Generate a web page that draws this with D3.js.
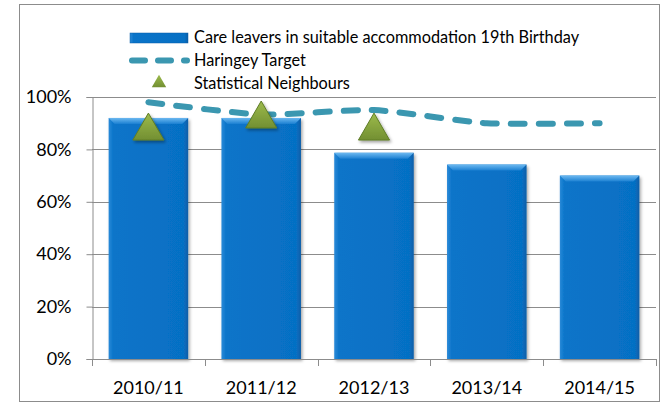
<!DOCTYPE html>
<html>
<head>
  <meta charset="utf-8" />
  <style>
    body { margin: 0; background: #ffffff; }
    svg text { font-family: Lato, 'Open Sans', sans-serif; fill: #000; }
  </style>
  <script src="https://cdnjs.cloudflare.com/ajax/libs/d3/7.8.5/d3.min.js"></script>
</head>
<body>
  <div id="chart"></div>
  <script>
    // data
    var years = ["2010/11", "2011/12", "2012/13", "2013/14", "2014/15"];
    var careLeavers = [92, 92, 78.7, 74.2, 70];
    var target = [98, 93.3, 95, 90, 90];
    var neighbours = [87, 91.6, 87, null, null];
    var yTicks = [0, 20, 40, 60, 80, 100];
    var legendLabels = ["Care leavers in suitable accommodation 19th Birthday", "Haringey Target", "Statistical Neighbours"];

    var w = 662, h = 403;
    var margin = { top: 97, right: 6, bottom: 44, left: 92 };

    var svg = d3.select("#chart").append("svg")
      .attr("width", w).attr("height", h);

    var defs = svg.append("defs");
    var barGrad = defs.append("linearGradient").attr("id", "barGrad")
      .attr("x1", 0).attr("x2", 1).attr("y1", 0).attr("y2", 0);
    barGrad.append("stop").attr("offset", "0").attr("stop-color", "#2a8ad8");
    barGrad.append("stop").attr("offset", "0.06").attr("stop-color", "#0a74c9");
    barGrad.append("stop").attr("offset", "0.94").attr("stop-color", "#0670c4");
    barGrad.append("stop").attr("offset", "1").attr("stop-color", "#0a5ea8");
    var topGrad = defs.append("linearGradient").attr("id", "topGrad")
      .attr("x1", 0).attr("x2", 0).attr("y1", 0).attr("y2", 1);
    topGrad.append("stop").attr("offset", "0").attr("stop-color", "#6cb8f0");
    topGrad.append("stop").attr("offset", "1").attr("stop-color", "#1b80d2");
    var triGrad = defs.append("linearGradient").attr("id", "triGrad")
      .attr("x1", 0).attr("x2", 0).attr("y1", 0).attr("y2", 1);
    triGrad.append("stop").attr("offset", "0").attr("stop-color", "#9dbb4c");
    triGrad.append("stop").attr("offset", "1").attr("stop-color", "#728f32");
    var shadow = defs.append("filter").attr("id", "shadow")
      .attr("x", "-10%").attr("y", "-10%").attr("width", "130%").attr("height", "130%");
    shadow.append("feDropShadow").attr("dx", 1.5).attr("dy", 2).attr("stdDeviation", 1.5)
      .attr("flood-color", "#000").attr("flood-opacity", 0.35);

    // outer frame
    svg.append("rect")
      .attr("x", 19.5).attr("y", 4.5).attr("width", 640).attr("height", 397)
      .attr("fill", "none").attr("stroke", "#8c8c8c");

    var x = d3.scaleBand().domain(years)
      .range([margin.left, w - margin.right]).paddingInner(0.295).paddingOuter(0.1475);
    var y = d3.scaleLinear().domain([0, 100]).range([h - margin.bottom, margin.top]);

    // gridlines
    svg.append("g").selectAll("line").data(yTicks.slice(1)).join("line")
      .attr("x1", margin.left).attr("x2", w - margin.right)
      .attr("y1", function (d) { return Math.round(y(d)) + 0.5; })
      .attr("y2", function (d) { return Math.round(y(d)) + 0.5; })
      .attr("stroke", "#8c8c8c");

    // bars
    var bars = svg.append("g").selectAll("g").data(careLeavers).join("g");
    bars.append("rect")
      .attr("x", function (d, i) { return x(years[i]); })
      .attr("y", function (d) { return y(d); })
      .attr("width", x.bandwidth())
      .attr("height", function (d) { return y(0) - y(d); })
      .attr("fill", "url(#barGrad)")
      .attr("filter", "url(#shadow)");
    bars.append("path")
      .attr("d", function (d, i) {
        var x0 = x(years[i]), x1 = x0 + x.bandwidth(), t = y(d), b = 6;
        return "M" + x0 + "," + t + "L" + x1 + "," + t + "L" + (x1 - b) + "," + (t + b) +
          "L" + (x0 + b) + "," + (t + b) + "Z";
      })
      .attr("fill", "url(#topGrad)");

    // axes
    var yAxis = svg.append("g").attr("transform", "translate(" + (margin.left + 0.5) + ",0)")
      .call(d3.axisLeft(y).tickValues(yTicks).tickSize(6).tickPadding(15)
        .tickFormat(function (d) { return d + "%"; }));
    yAxis.select(".domain").attr("stroke", "#8c8c8c");
    yAxis.selectAll(".tick line").attr("stroke", "#8c8c8c");
    yAxis.selectAll("text").attr("font-size", 18).attr("font-family", "Lato, sans-serif");

    var xAxis = svg.append("g").attr("transform", "translate(0," + (Math.round(y(0)) + 0.5) + ")")
      .call(d3.axisBottom(x).tickSize(0).tickPadding(22));
    xAxis.select(".domain").remove();
    xAxis.selectAll("text").attr("font-size", 18).attr("font-family", "Lato, sans-serif");
    svg.append("line")
      .attr("x1", margin.left).attr("x2", w - margin.right)
      .attr("y1", Math.round(y(0)) + 0.5).attr("y2", Math.round(y(0)) + 0.5)
      .attr("stroke", "#8c8c8c");
    var edges = years.map(function (d) { return x(d) - x.step() * x.paddingInner() / 2; })
      .concat([w - margin.right]);
    svg.append("g").selectAll("line").data(edges).join("line")
      .attr("x1", function (d) { return Math.round(d) + 0.5; })
      .attr("x2", function (d) { return Math.round(d) + 0.5; })
      .attr("y1", Math.round(y(0))).attr("y2", Math.round(y(0)) + 7)
      .attr("stroke", "#8c8c8c");

    // target line
    var line = d3.line()
      .x(function (d, i) { return x(years[i]) + x.bandwidth() / 2; })
      .y(function (d) { return y(d); })
      .curve(d3.curveCardinal.tension(0.4));
    svg.append("path").datum(target)
      .attr("d", line)
      .attr("fill", "none").attr("stroke", "#3b97b0").attr("stroke-width", 6)
      .attr("stroke-linecap", "round").attr("stroke-dasharray", "14,14");

    // neighbours triangles
    var tri = d3.symbol().type(d3.symbolTriangle).size(420);
    svg.append("g").selectAll("path")
      .data(neighbours.filter(function (d) { return d != null; }))
      .join("path")
      .attr("d", tri)
      .attr("transform", function (d, i) {
        return "translate(" + (x(years[i]) + x.bandwidth() / 2) + "," + y(d) + ")";
      })
      .attr("fill", "url(#triGrad)").attr("stroke", "#5f7d26").attr("stroke-width", 1)
      .attr("filter", "url(#shadow)");

    // legend
    var lg = svg.append("g");
    lg.append("rect").attr("x", 130).attr("y", 33).attr("width", 58).attr("height", 10)
      .attr("fill", "url(#barGrad)").attr("stroke", "#0a5ea8").attr("stroke-width", 0.5);
    lg.append("line").attr("x1", 132).attr("x2", 187).attr("y1", 60.5).attr("y2", 60.5)
      .attr("stroke", "#3b97b0").attr("stroke-width", 6)
      .attr("stroke-linecap", "round").attr("stroke-dasharray", "13,13");
    lg.append("path").attr("d", d3.symbol().type(d3.symbolTriangle).size(90))
      .attr("transform", "translate(159,83)").attr("fill", "url(#triGrad)");
    lg.selectAll("text").data(legendLabels).join("text")
      .attr("x", 194).attr("y", function (d, i) { return 37 + i * 23; })
      .attr("dy", "0.35em").attr("font-size", 16.3)
      .text(function (d) { return d; });
  </script>
</body>
</html>
